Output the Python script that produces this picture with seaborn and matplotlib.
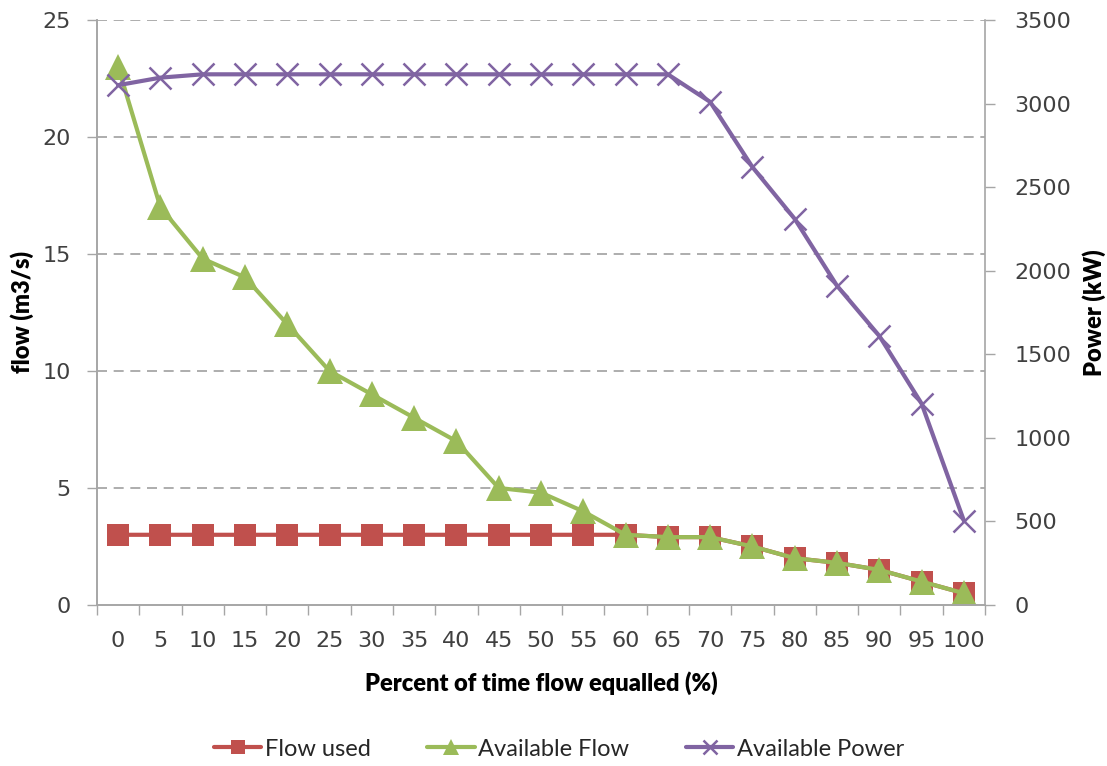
import matplotlib
matplotlib.use("Agg")
import matplotlib.pyplot as plt
import seaborn as sns
import numpy as np
import pandas as pd
from matplotlib.ticker import FixedLocator, NullFormatter

percent = [0, 5, 10, 15, 20, 25, 30, 35, 40, 45, 50, 55, 60, 65, 70, 75, 80, 85, 90, 95, 100]
flow_used = [3, 3, 3, 3, 3, 3, 3, 3, 3, 3, 3, 3, 3, 2.9, 2.9, 2.5, 2.0, 1.8, 1.5, 1.0, 0.5]
available_flow = [23, 17, 14.8, 14, 12, 10, 9, 8, 7, 5, 4.8, 4, 3, 2.9, 2.9, 2.5, 2.0, 1.8, 1.5, 1.0, 0.5]
available_power = [3110, 3155, 3175, 3175, 3175, 3175, 3175, 3175, 3175, 3175, 3175, 3175, 3175, 3175,
                   3010, 2620, 2310, 1910, 1610, 1205, 505]

RED = "#C0504D"
GREEN = "#9BBB59"
PURPLE = "#8064A2"
AXIS = "#A6A6A6"
TEXT = "#404040"

sns.set_theme(style="white")
plt.rcParams['font.family'] = ['DejaVu Sans']

df = pd.DataFrame({
    "idx": np.arange(len(percent)),
    "Flow used": flow_used,
    "Available Flow": available_flow,
    "Available Power": available_power,
})

fig = plt.figure(figsize=(11.07, 7.66), dpi=100)
ax = fig.add_axes([0.0876, 0.2102, 0.8022, 0.7637])
ax2 = ax.twinx()

sns.lineplot(data=df, x="idx", y="Flow used", ax=ax, color=RED, lw=3, marker="s",
             markersize=16, markeredgewidth=0, markeredgecolor=RED, markerfacecolor=RED,
             label="Flow used", legend=False)
sns.lineplot(data=df, x="idx", y="Available Flow", ax=ax, color=GREEN, lw=3, marker="^",
             markersize=19, markeredgewidth=0, markeredgecolor=GREEN, markerfacecolor=GREEN,
             label="Available Flow", legend=False)
sns.lineplot(data=df, x="idx", y="Available Power", ax=ax2, color=PURPLE, lw=3, marker="x",
             markersize=16, markeredgewidth=1.8, markeredgecolor=PURPLE,
             label="Available Power", legend=False)

ax.set_xlim(-0.5, len(percent) - 0.5)
ax.set_ylim(0, 25)
ax2.set_ylim(0, 3500)

ax.set_yticks([0, 5, 10, 15, 20, 25])
ax2.set_yticks([0, 500, 1000, 1500, 2000, 2500, 3000, 3500])
ax.set_xticks(np.arange(len(percent)))
ax.set_xticklabels([str(p) for p in percent])
ax.xaxis.set_minor_locator(FixedLocator(np.arange(len(percent) + 1) - 0.5))
ax.xaxis.set_minor_formatter(NullFormatter())

ax.tick_params(axis="x", which="major", length=0, pad=19, labelsize=16, labelcolor=TEXT)
ax.tick_params(axis="x", which="minor", length=7, width=1, color=AXIS, direction="out", bottom=True)
ax.tick_params(axis="y", length=7, width=1, color=AXIS, direction="out", labelsize=16,
               labelcolor=TEXT, left=True, pad=12)
ax2.tick_params(axis="y", length=7, width=1, color=AXIS, direction="out", labelsize=16,
                labelcolor=TEXT, right=True, pad=14)

for a in (ax, ax2):
    a.spines["top"].set_visible(False)
    for s in ("left", "right", "bottom"):
        a.spines[s].set_color(AXIS)
        a.spines[s].set_linewidth(1.2)
ax.spines["right"].set_visible(False)

for y in [5, 10, 15, 20, 25]:
    ax.axhline(y, color="#A0A0A0", lw=1.2, ls=(0, (6, 4)), zorder=0)

ax.set_zorder(ax2.get_zorder() - 1)
ax.patch.set_visible(False)

lab_font = dict(family="Lato", weight="heavy", size=17, color="black")
ax.set_xlabel("Percent of time flow equalled (%)", labelpad=14, **lab_font)
ax.set_ylabel("flow (m3/s)", labelpad=6, **lab_font)
ax2.set_ylabel("Power (kW)", labelpad=8, **lab_font)

h1, l1 = ax.get_legend_handles_labels()
h2, l2 = ax2.get_legend_handles_labels()
fig.legend(h1 + h2, l1 + l2, loc="center", bbox_to_anchor=(0.505, 0.022), ncol=3,
           frameon=False, prop={"family": "Lato", "size": 17}, handlelength=2.0,
           columnspacing=2.4, handletextpad=0.15, markerscale=0.6)

fig.savefig("out.png", dpi=100)
